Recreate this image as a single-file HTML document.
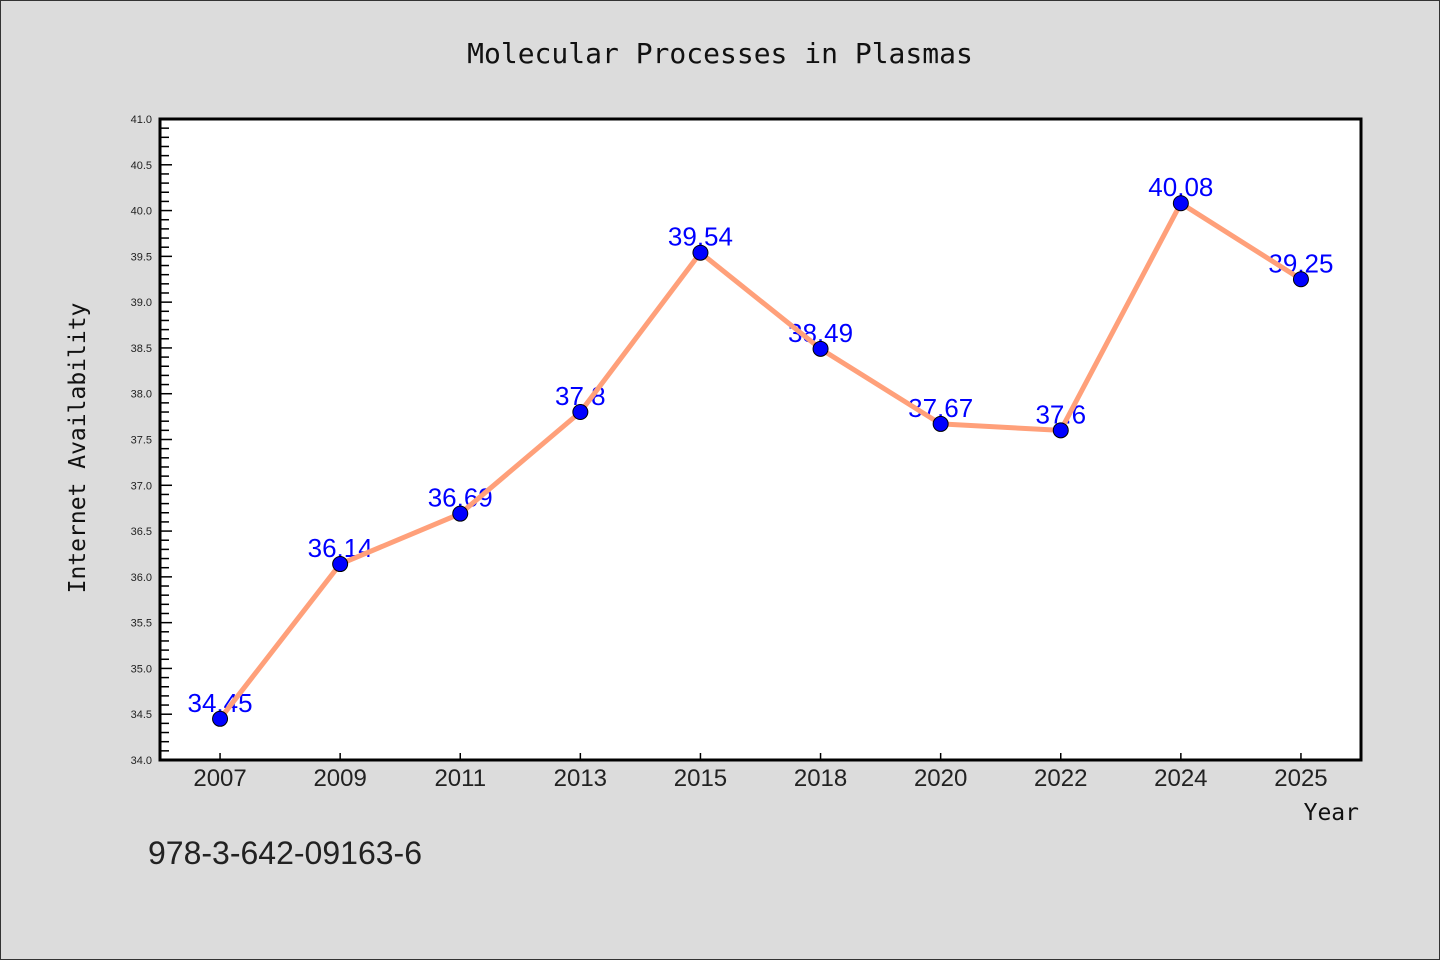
<!DOCTYPE html>
<html><head><meta charset="utf-8"><style>
html,body{margin:0;padding:0;background:#dcdcdc;}
svg{display:block;font-family:"Liberation Sans","DejaVu Sans",sans-serif;}
</style></head><body>
<svg id="chart" width="1440" height="960" viewBox="0 0 1440 960">
<rect x="0.5" y="0.5" width="1439" height="959" fill="#dcdcdc" stroke="#333"/>
<text x="720" y="63" text-anchor="middle" font-family="DejaVu Sans Mono, monospace" font-size="28" fill="#111">Molecular Processes in Plasmas</text>
<rect x="160" y="119" width="1201" height="641" fill="#fff"/>
<g id="yticks"></g><g id="xticks"></g><g id="labels"></g><g id="series"></g><g id="markers"></g>
<rect x="160" y="119" width="1201" height="641" fill="none" stroke="#000" stroke-width="3"/>
<text transform="translate(85,448) rotate(-90)" text-anchor="middle" font-family="DejaVu Sans Mono, monospace" font-size="23" fill="#111">Internet Availability</text>
<text x="1359" y="820" text-anchor="end" font-family="DejaVu Sans Mono, monospace" font-size="23" fill="#111">Year</text>
<text x="148" y="864" font-size="32" fill="#222">978-3-642-09163-6</text>
</svg>
<script>
const categories=["2007","2009","2011","2013","2015","2018","2020","2022","2024","2025"];
const values=[34.45,36.14,36.69,37.8,39.54,38.49,37.67,37.6,40.08,39.25];
const valueLabels=["34.45","36.14","36.69","37.8","39.54","38.49","37.67","37.6","40.08","39.25"];
const yTickLabels=["34.0","34.5","35.0","35.5","36.0","36.5","37.0","37.5","38.0","38.5","39.0","39.5","40.0","40.5","41.0"];
const NS="http://www.w3.org/2000/svg";
const L=160,R=1361,T=119,B=760,yMin=34,yMax=41;
const xs=i=>L+(R-L)/categories.length*(i+0.5);
const ys=v=>B-(v-yMin)/(yMax-yMin)*(B-T);
function mk(tag,attrs,parent){const e=document.createElementNS(NS,tag);for(const k in attrs)e.setAttribute(k,attrs[k]);document.getElementById(parent).appendChild(e);return e;}
for(let k=0;k<=70;k++){const v=yMin+k*0.1;const y=ys(v);const major=k%5===0;
 const t=mk('line',{x1:L,x2:L+(major?12:9),y1:y,y2:y,stroke:'#000','stroke-width':1.5},'yticks');
 
 }
yTickLabels.forEach(s=>{const y=ys(parseFloat(s));const t=mk('text',{x:L-8,y:y+4,'text-anchor':'end','font-size':11,fill:'#222'},'yticks');t.textContent=s;
 
 });
categories.forEach((c,i)=>{const x=xs(i);
 const t=mk('line',{x1:x,x2:x,y1:B,y2:B-7,stroke:'#000','stroke-width':1.5},'xticks');
 
 
 const l=mk('text',{x:x,y:B+26,'text-anchor':'middle','font-size':24,fill:'#222'},'xticks');l.textContent=c;
 
 });
values.forEach((v,i)=>{const t=mk('text',{x:xs(i),y:ys(v)-7,'text-anchor':'middle','font-size':26,fill:'#0000ff'},'labels');t.textContent=valueLabels[i];
 
 });
const p=mk('polyline',{points:values.map((v,i)=>xs(i)+','+ys(v)).join(' '),fill:'none',stroke:'#ffa07a','stroke-width':5,'stroke-linejoin':'round'},'series');


values.forEach((v,i)=>{const c=mk('circle',{cx:xs(i),cy:ys(v),r:7.5,fill:'#0000ff',stroke:'#000','stroke-width':1},'markers');
 
 });
</script>
</body></html>
